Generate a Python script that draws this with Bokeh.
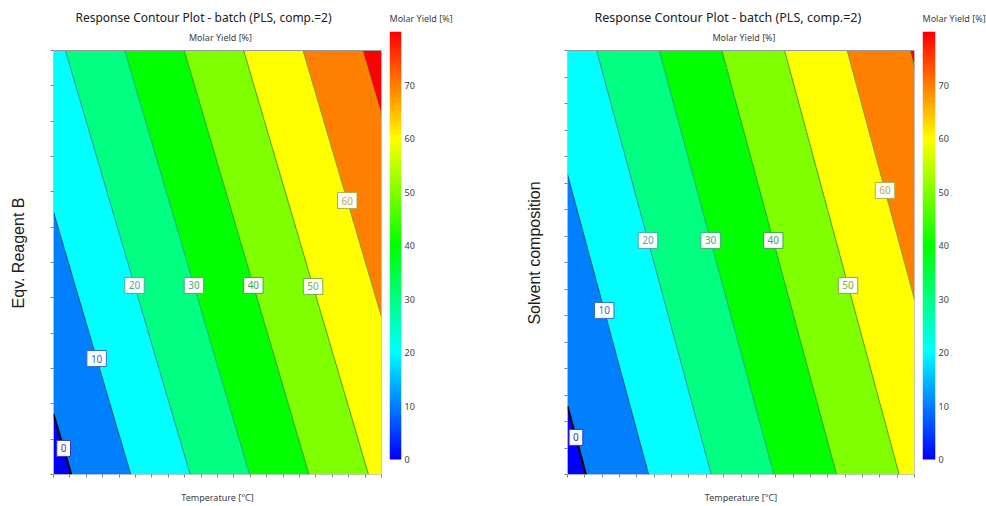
import numpy as np
from bokeh.plotting import figure
from bokeh.layouts import row
from bokeh.models import FixedTicker, Title, LinearColorMapper, ColumnDataSource, Range1d
from bokeh.embed import file_html
from bokeh.resources import INLINE
from bokeh.core.properties import value

# ---------------- data ----------------
levels = [-10, 0, 10, 20, 30, 40, 50, 60, 70, 80]
band_colors = ["#0000FF", "#0080FF", "#00FFFF", "#00FF80", "#00FF00",
               "#80FF00", "#FFFF00", "#FF8000", "#FF0000"]
line_colors = ["#000000", "#000000", "#1E5FA8", "#1FA3A3", "#1FA360",
               "#1F9F1F", "#70A01F", "#A0A01F", "#A0501F"]
line_widths = [0, 2, 1, 1, 1, 1, 1, 1, 1, 1]

cbar_values = [0, 10, 20, 30, 40, 50, 60, 70, 80]
cbar_colors = ["#0000FF", "#0080FF", "#00FFFF", "#00FF80", "#00FF00",
               "#80FF00", "#FFFF00", "#FF8000", "#FF0000"]
cbar_ticks = [0, 10, 20, 30, 40, 50, 60, 70]

# PLS model coefficients (coded factor units, -1 .. +1)
left_intercept = 35.1
left_temperature_effect = 27.6
left_reagent_effect = 10.5
right_intercept = 33.9
right_temperature_effect = 27.7
right_solvent_effect = 9.15

label_levels = [0, 10, 20, 30, 40, 50, 60]
label_colors = ["#3535C8", "#2F6FC4", "#3FAFAF", "#3FAF7A", "#3FAA3F", "#7AAF3F", "#AFAF3F"]
left_label_y = [-0.877, -0.453, -0.108, -0.108, -0.108, -0.113, 0.292]
right_label_y = [-0.825, -0.226, 0.104, 0.104, 0.104, -0.108, 0.340]

title_text = "Response Contour Plot - batch (PLS, comp.=2)"
response_name = "Molar Yield [%]"
x_name = "Temperature [\u00b0C]"
left_y_name = "Eqv. Reagent B"
right_y_name = "Solvent composition"

left_x_ticks = [-1 + 0.1 * i for i in range(21)]
left_y_ticks = [-1 + i / 6 for i in range(13)]
right_x_ticks = [-1 + 0.1 * i for i in range(21)]
right_y_ticks = [-1 + 0.125 * i for i in range(17)]

FONT = "Noto Sans"
GREY = "#9A9A9A"

# page geometry (pixels)
H = 506
TOP = 31          # top of the drawing frames (colour-bar top)
BOTTOM = 32       # bottom border
PLOT_TOP = 50     # top of the contour area
BAR_BOTTOM = 459  # bottom of the colour bar


def interp_palette(n=256):
    rgb = np.array([[int(h[i:i + 2], 16) for i in (1, 3, 5)] for h in cbar_colors], float)
    pal = []
    for v in np.linspace(cbar_values[0], cbar_values[-1], n):
        c = [np.interp(v, cbar_values, rgb[:, k]) for k in range(3)]
        pal.append("#%02x%02x%02x" % tuple(int(round(t)) for t in c))
    return pal


def contour_panel(border_left, frame_w, intercept, b_t, b_v, ylabel, ylabel_standoff,
                  title_offset, title_size, xt, yt, lab_y):
    frame_h = H - TOP - BOTTOM
    plot_h = H - PLOT_TOP - BOTTOM
    y_top = -1 + 2 * frame_h / plot_h
    p = figure(width=border_left + frame_w + 4, height=H,
               x_range=Range1d(-1, 1), y_range=Range1d(-1, y_top),
               output_backend="svg", toolbar_location=None, title=None,
               min_border_left=border_left, min_border_right=4,
               min_border_top=TOP, min_border_bottom=BOTTOM)
    gx = np.linspace(-1, 1, 121)
    gy = np.linspace(-1, 1, 121)
    X, Y = np.meshgrid(gx, gy)
    Z = intercept + b_t * X + b_v * Y
    p.contour(gx, gy, Z, levels, fill_color=band_colors, line_color=line_colors,
              line_width=line_widths)
    # plot border
    p.quad(left=[-1], right=[1], bottom=[-1], top=[1], fill_color=None,
           line_color=GREY, line_width=1)

    lx = [(lv - intercept - b_v * yy) / b_t for lv, yy in zip(label_levels, lab_y)]
    src = ColumnDataSource(dict(x=lx, y=lab_y, text=[str(v) for v in label_levels],
                                color=label_colors))
    p.text(x="x", y="y", text="text", source=src, text_color="color",
           text_align="center", text_baseline="middle",
           text_font=value(FONT), text_font_size="10px",
           background_fill_color="white", border_line_color="color",
           border_line_width=1, padding=4)

    # sub-title just above the contour area
    p.text(x=[0], y=[1 + 2 * 13 / plot_h], text=[response_name], x_offset=3,
           text_align="center", text_baseline="middle", text_font=value(FONT),
           text_font_size="9px", text_color="#404040")

    p.grid.visible = False
    p.outline_line_color = None
    p.background_fill_color = "white"

    for ax, ticks in ((p.xaxis[0], xt), (p.yaxis[0], yt)):
        ax.ticker = FixedTicker(ticks=[], minor_ticks=ticks)
        ax.major_label_standoff = 0
        ax.axis_line_color = None
        ax.major_tick_line_color = "#808080"
        ax.minor_tick_line_color = "#808080"
        ax.major_tick_in = 0
        ax.major_tick_out = 3
        ax.minor_tick_in = 0
        ax.minor_tick_out = 3
        ax.axis_label_text_font_style = "normal"

    p.xaxis.axis_label = x_name
    p.xaxis.axis_label_text_font = FONT
    p.xaxis.axis_label_text_font_size = "9px"
    p.xaxis.axis_label_text_color = "#404040"
    p.xaxis.axis_label_standoff = 13

    p.yaxis.axis_label = ylabel
    p.yaxis.axis_label_text_font = "Liberation Sans"
    p.yaxis.axis_label_text_font_size = "16px"
    p.yaxis.axis_label_text_color = "#202020"
    p.yaxis.axis_label_standoff = ylabel_standoff

    p.add_layout(Title(text=title_text, align="left", offset=title_offset,
                       text_font=FONT, text_font_size=title_size, text_font_style="normal",
                       text_color="#202020", standoff=11), "above")
    return p


def colorbar_panel(bar_w, border_right):
    frame_h = H - TOP - BOTTOM
    bar_h = BAR_BOTTOM - TOP
    y_start = cbar_values[-1] - cbar_values[-1] * frame_h / bar_h
    c = figure(width=4 + bar_w + border_right, height=H,
               x_range=Range1d(0, 1), y_range=Range1d(y_start, cbar_values[-1]),
               output_backend="svg", toolbar_location=None, title=None,
               x_axis_location=None, y_axis_location="right",
               min_border_left=4, min_border_right=border_right,
               min_border_top=TOP, min_border_bottom=BOTTOM)
    n = 320
    vals = np.linspace(cbar_values[0], cbar_values[-1], n)
    mapper = LinearColorMapper(palette=interp_palette(), low=cbar_values[0],
                               high=cbar_values[-1])
    c.image(image=[vals.reshape(n, 1)], x=0, y=cbar_values[0], dw=1,
            dh=cbar_values[-1] - cbar_values[0], color_mapper=mapper)
    c.grid.visible = False
    c.outline_line_color = None
    ax = c.yaxis[0]
    ax.ticker = FixedTicker(ticks=cbar_ticks)
    ax.major_tick_out = 0
    ax.major_tick_in = 0
    ax.minor_tick_out = 0
    ax.minor_tick_in = 0
    ax.axis_line_color = None
    ax.major_label_standoff = 3
    ax.major_label_text_font = FONT
    ax.major_label_text_font_size = "9px"
    ax.major_label_text_color = "#404040"
    c.add_layout(Title(text=response_name, align="left", offset=0,
                       text_font=FONT, text_font_size="9px", text_font_style="normal",
                       text_color="#404040", standoff=14), "above")
    return c


p1 = contour_panel(53, 328, left_intercept, left_temperature_effect, left_reagent_effect,
                   left_y_name, 24, 22, "12px", left_x_ticks, left_y_ticks, left_label_y)
c1 = colorbar_panel(12, 92)
p2 = contour_panel(74, 347, right_intercept, right_temperature_effect,
                   right_solvent_effect, right_y_name, 22, 27, "12.5px", right_x_ticks,
                   right_y_ticks, right_label_y)
c2 = colorbar_panel(13, 51)

layout = row(p1, c1, p2, c2, spacing=0)
open("out.html", "w").write(file_html(layout, INLINE))
